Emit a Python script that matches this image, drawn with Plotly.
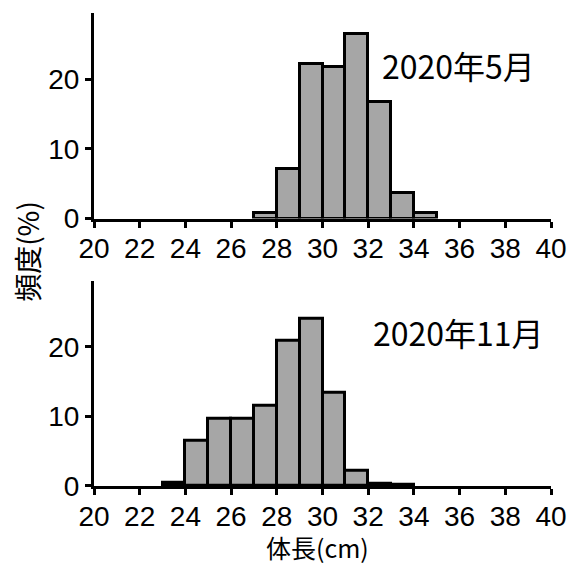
import plotly.graph_objects as go

# Body-length frequency distributions (1 cm bins, lower edge in cm)
bins_may = [27, 28, 29, 30, 31, 32, 33, 34]
freq_may = [0.8, 7.1, 22.2, 21.7, 26.5, 16.7, 3.7, 0.8]

bins_nov = [23, 24, 25, 26, 27, 28, 29, 30, 31, 32, 33]
freq_nov = [0.5, 6.5, 9.7, 9.7, 11.5, 20.9, 24.0, 13.4, 2.2, 0.4, 0.2]

panel_labels = ["2020年5月", "2020年11月"]
x_ticks = list(range(20, 41, 2))
y_ticks = [0, 10, 20]

BAR_FILL = "#a6a6a6"
TICK_FONT = dict(family="Liberation Sans, Arial, sans-serif", size=28, color="black")
CJK_FONT = dict(family="Noto Sans CJK JP, sans-serif", size=28, color="black")
XTITLE_FONT = dict(family="Noto Sans CJK JP, sans-serif", size=25, color="black")
LABEL_FONT = dict(family="Noto Sans CJK JP, sans-serif", size=32, color="black")

fig = go.Figure()
for i, (bins, freq) in enumerate([(bins_may, freq_may), (bins_nov, freq_nov)]):
    suffix = "" if i == 0 else "2"
    fig.add_trace(go.Bar(
        x=bins, y=freq, width=1, offset=0,
        marker=dict(color=BAR_FILL, line=dict(color="black", width=3)),
        xaxis="x" + suffix, yaxis="y" + suffix, showlegend=False,
    ))

axis_common = dict(
    showline=True, linecolor="black", linewidth=3, mirror=False,
    ticks="outside", ticklen=6, tickwidth=2.5, tickcolor="black",
    showgrid=False, zeroline=False, tickfont=TICK_FONT, automargin=False,
)
xa = dict(axis_common, range=[20, 40], tickvals=x_ticks, ticklabelstandoff=-3)
ya = dict(axis_common, range=[0, 29.5], tickvals=y_ticks)

fig.update_layout(
    template="none",
    width=569, height=564,
    margin=dict(l=94, r=18, t=13, b=78),
    plot_bgcolor="white", paper_bgcolor="white",
    bargap=0,
    xaxis=dict(xa, domain=[0, 1], anchor="y"),
    yaxis=dict(ya, domain=[0.5655, 1], anchor="x"),
    xaxis2=dict(xa, domain=[0, 1], anchor="y2"),
    yaxis2=dict(ya, domain=[0, 0.434], anchor="x2"),
)

fig.add_annotation(x=35.93, y=22.05, xref="x", yref="y", text=panel_labels[0],
                   showarrow=False, font=LABEL_FONT, xanchor="center", yanchor="middle")
fig.add_annotation(x=35.97, y=22.1, xref="x2", yref="y2", text=panel_labels[1],
                   showarrow=False, font=LABEL_FONT, xanchor="center", yanchor="middle")

# Shared axis titles
fig.add_annotation(x=-0.1466, y=0.495, xref="paper", yref="paper", text="頻度(%)",
                   textangle=-90, showarrow=False, font=CJK_FONT,
                   xanchor="center", yanchor="middle")
fig.add_annotation(x=0.489, y=-0.1712, xref="paper", yref="paper", text="体長(cm)",
                   showarrow=False, font=XTITLE_FONT, xanchor="center", yanchor="bottom")

fig.write_html("out.html")
